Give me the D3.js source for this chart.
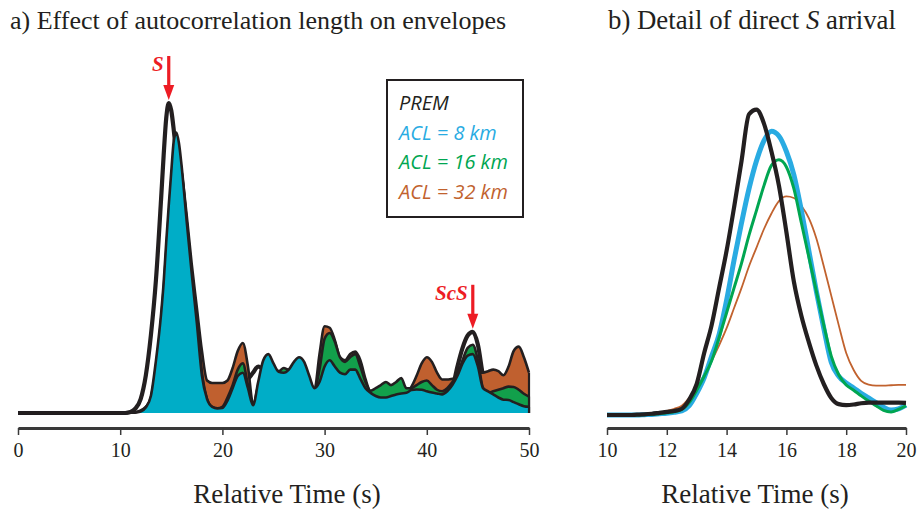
<!DOCTYPE html>
<html>
<head>
<meta charset="utf-8">
<script src="https://cdn.jsdelivr.net/npm/d3@7"></script>
<style>
  body { margin: 0; background: #fff; }
  svg { display: block; }
</style>
</head>
<body>
<svg id="chart" width="918" height="511"></svg>
<script>
// ---- Panel a: envelopes over the full window (relative time, s) ----
const times = [
  0,
  10, 10.5, 11, 11.5, 12, 12.5, 13, 13.5, 14,
  14.25, 14.5, 14.75, 15, 15.25, 15.5, 15.75,
  16, 16.5, 17, 17.5, 18, 18.5, 19, 19.5, 20, 20.5,
  21, 21.5, 22, 22.5, 23, 23.5, 24, 24.5, 25, 25.5,
  26, 26.5, 27, 27.5, 28, 28.5, 29, 29.5, 30, 30.5,
  31, 31.5, 32, 32.5, 33, 33.5, 34, 34.5, 35, 35.5,
  36, 36.5, 37, 37.5, 38, 38.5, 39, 39.5, 40, 40.5,
  41, 41.5, 42, 42.5, 43, 43.5, 44, 44.5, 45, 45.5,
  46, 46.5, 47, 47.5, 48, 48.5, 49, 49.5, 50
];
const premEnv = [
  0,
  0, 0, 0.003, 0.015, 0.045, 0.12, 0.25, 0.43, 0.69,
  0.83, 0.95, 1.0, 0.975, 0.91, 0.83, 0.74,
  0.65, 0.48, 0.33, 0.2, 0.1, 0.05, 0.03, 0.025, 0.025, 0.03,
  0.05, 0.08, 0.1, 0.11, 0.13, 0.15, 0.14, 0.12, 0.1, 0.09,
  0.09, 0.1, 0.12, 0.13, 0.12, 0.09, 0.07, 0.08, 0.12, 0.14,
  0.13, 0.11, 0.1, 0.11, 0.11, 0.09, 0.06, 0.045, 0.04, 0.04,
  0.04, 0.045, 0.05, 0.05, 0.05, 0.055, 0.06, 0.06, 0.06, 0.055,
  0.05, 0.05, 0.055, 0.08, 0.15, 0.21, 0.25, 0.262, 0.22, 0.12,
  0.06, 0.05, 0.045, 0.04, 0.04, 0.04, 0.035, 0.03, 0.03
];
const acl32Env = [
  0,
  0, 0, 0.001, 0.003, 0.008, 0.02, 0.045, 0.13, 0.28,
  0.37, 0.47, 0.58, 0.69, 0.78, 0.83, 0.82,
  0.78, 0.64, 0.48, 0.34, 0.2, 0.105, 0.097, 0.097, 0.097, 0.105,
  0.145, 0.2, 0.226, 0.15, 0.03, 0.07, 0.13, 0.16, 0.13, 0.12,
  0.12, 0.12, 0.14, 0.15, 0.13, 0.1, 0.075, 0.19, 0.28, 0.275,
  0.235, 0.18, 0.17, 0.19, 0.198, 0.17, 0.11, 0.065, 0.055, 0.055,
  0.055, 0.06, 0.06, 0.062, 0.065, 0.085, 0.12, 0.16, 0.18, 0.165,
  0.13, 0.108, 0.108, 0.11, 0.11, 0.12, 0.13, 0.13, 0.13, 0.13,
  0.135, 0.14, 0.135, 0.122, 0.15, 0.2, 0.214, 0.18, 0.13
];
const acl16Env = [
  0,
  0, 0, 0.001, 0.002, 0.006, 0.018, 0.05, 0.15, 0.3,
  0.4, 0.52, 0.64, 0.75, 0.84, 0.87, 0.84,
  0.78, 0.62, 0.45, 0.3, 0.13, 0.045, 0.02, 0.015, 0.02, 0.05,
  0.09, 0.14, 0.16, 0.09, 0.025, 0.09, 0.15, 0.18, 0.15, 0.135,
  0.145, 0.14, 0.15, 0.165, 0.15, 0.11, 0.078, 0.14, 0.24, 0.258,
  0.23, 0.18, 0.165, 0.18, 0.19, 0.15, 0.1, 0.072, 0.08, 0.09,
  0.1, 0.09, 0.1, 0.113, 0.08, 0.08, 0.09, 0.1, 0.105, 0.09,
  0.075, 0.07, 0.08, 0.1, 0.125, 0.17, 0.21, 0.22, 0.17, 0.08,
  0.065, 0.07, 0.075, 0.08, 0.085, 0.084, 0.075, 0.062, 0.053
];
const acl8Env = [
  0,
  0, 0, 0.001, 0.002, 0.005, 0.018, 0.055, 0.17, 0.32,
  0.42, 0.55, 0.67, 0.78, 0.88, 0.905, 0.87,
  0.8, 0.62, 0.45, 0.29, 0.12, 0.045, 0.02, 0.015, 0.016, 0.04,
  0.08, 0.12, 0.13, 0.08, 0.025, 0.1, 0.17, 0.19, 0.16, 0.133,
  0.13, 0.14, 0.165, 0.18, 0.165, 0.12, 0.08, 0.1, 0.15, 0.17,
  0.15, 0.13, 0.125, 0.14, 0.14, 0.11, 0.08, 0.065, 0.055, 0.05,
  0.05, 0.055, 0.06, 0.063, 0.065, 0.074, 0.076, 0.075, 0.07, 0.066,
  0.063, 0.06, 0.07, 0.09, 0.12, 0.16, 0.185, 0.19, 0.15, 0.08,
  0.07, 0.06, 0.05, 0.043, 0.042, 0.035, 0.028, 0.022, 0.02
];
const tickA = [0, 10, 20, 30, 40, 50];
const phaseNames = ["S", "ScS"];
const phaseTimes = [14.75, 44.5];

// ---- Panel b: close-up of the direct S arrival ----
const detailTimes = [
  10, 10.25, 10.5, 10.75, 11, 11.25, 11.5, 11.75, 12, 12.25, 12.5, 12.75,
  13, 13.25, 13.5, 13.75, 14, 14.25, 14.5, 14.75, 15, 15.25, 15.5, 15.75,
  16, 16.25, 16.5, 16.75, 17, 17.25, 17.5, 17.75, 18, 18.25, 18.5, 18.75,
  19, 19.25, 19.5, 19.75, 20
];
const premDetail = [
  0, 0, 0, 0, 0.001, 0.002, 0.004, 0.007, 0.01, 0.013, 0.02, 0.05,
  0.1, 0.2, 0.29, 0.41, 0.53, 0.67, 0.82, 0.97, 0.985, 0.94, 0.85, 0.74,
  0.59, 0.43, 0.32, 0.235, 0.16, 0.1, 0.055, 0.035, 0.032, 0.034, 0.038, 0.04,
  0.04, 0.04, 0.04, 0.04, 0.039
];
const acl8Detail = [
  0, 0, 0, 0, 0, 0.001, 0.002, 0.004, 0.006, 0.009, 0.013, 0.03,
  0.07, 0.12, 0.19, 0.26, 0.37, 0.5, 0.62, 0.73, 0.82, 0.885, 0.915, 0.9,
  0.85, 0.775, 0.66, 0.53, 0.4, 0.28, 0.17, 0.125, 0.103, 0.087, 0.07, 0.055,
  0.04, 0.025, 0.016, 0.02, 0.032
];
const acl16Detail = [
  0, 0, 0, 0, 0, 0.001, 0.002, 0.004, 0.007, 0.01, 0.018, 0.04,
  0.08, 0.125, 0.175, 0.25, 0.33, 0.41, 0.49, 0.58, 0.66, 0.74, 0.805, 0.823,
  0.8, 0.73, 0.62, 0.51, 0.4, 0.29, 0.19, 0.13, 0.097, 0.08, 0.062, 0.045,
  0.03, 0.015, 0.01, 0.018, 0.03
];
const acl32Detail = [
  0, 0, 0.001, 0.002, 0.003, 0.004, 0.006, 0.008, 0.013, 0.02, 0.03, 0.055,
  0.085, 0.13, 0.175, 0.225, 0.28, 0.345, 0.41, 0.48, 0.54, 0.6, 0.65, 0.69,
  0.705, 0.7, 0.675, 0.635, 0.57, 0.48, 0.385, 0.29, 0.2, 0.145, 0.11, 0.098,
  0.095, 0.095, 0.096, 0.097, 0.097
];
const tickB = [10, 12, 14, 16, 18, 20];

const legendLabels = ["PREM", "ACL = 8 km", "ACL = 16 km", "ACL = 32 km"];

// ---- Colours ----
const INK = "#231f20";
const RED = "#ed1c24";
const SKY = "#29abe2";
const TEAL = "#00adc7";
const GREEN = "#00a651";
const GREEN_FILL = "#12a04b";
const BROWN = "#c1622e";
const BROWN_FILL = "#c0602f";
const SERIF = "'Liberation Serif', 'Times New Roman', serif";
const SANS = "'Open Sans', 'Noto Sans', sans-serif";

const svg = d3.select("#chart");

// ================= Panel a =================
const xA = d3.scaleLinear().domain([0, 50]).range([18, 529]);
const yA = d3.scaleLinear().domain([0, 1]).range([413, 103]);
const pairs = (ts, vs) => ts.map((t, i) => [t, vs[i]]);
const lineA = d3.line().x(d => xA(d[0])).y(d => yA(d[1])).curve(d3.curveMonotoneX);
const areaA = d3.area().x(d => xA(d[0])).y0(yA(0)).y1(d => yA(d[1])).curve(d3.curveMonotoneX);

const gA = svg.append("g");

// PREM envelope: outline only, sitting beneath the filled envelopes
gA.append("path")
  .attr("d", lineA(pairs(times, premEnv)))
  .attr("fill", "none")
  .attr("stroke", INK)
  .attr("stroke-width", 4.2)
  .attr("stroke-linejoin", "round");

// Filled envelopes, broadest (32 km) first
const layersA = [
  { values: acl32Env, fill: BROWN_FILL },
  { values: acl16Env, fill: GREEN_FILL },
  { values: acl8Env, fill: TEAL }
];
layersA.forEach(layer => {
  const pts = pairs(times, layer.values);
  gA.append("path").attr("d", areaA(pts)).attr("fill", layer.fill);
  gA.append("path")
    .attr("d", lineA(pts))
    .attr("fill", "none")
    .attr("stroke", INK)
    .attr("stroke-width", 2.6)
    .attr("stroke-linejoin", "round");
  const last = pts[pts.length - 1];
  gA.append("line")
    .attr("x1", xA(last[0])).attr("x2", xA(last[0]))
    .attr("y1", yA(last[1])).attr("y2", yA(0))
    .attr("stroke", INK).attr("stroke-width", 2.2);
});

// Phase arrows (S, ScS) pointing at the PREM envelope
const premAt = t => premEnv[times.indexOf(t)];
phaseNames.forEach((name, i) => {
  const t = phaseTimes[i];
  const x = xA(t);
  const tip = yA(premAt(t)) - 3;
  const top = tip - 44;
  gA.append("line")
    .attr("x1", x).attr("x2", x)
    .attr("y1", top).attr("y2", tip - 12)
    .attr("stroke", RED).attr("stroke-width", 3.2);
  gA.append("path")
    .attr("d", d3.line()([[x - 5.5, tip - 15], [x + 5.5, tip - 15], [x, tip]]) + "Z")
    .attr("fill", RED);
  gA.append("text")
    .attr("x", x - 5).attr("y", top + 15)
    .attr("text-anchor", "end")
    .attr("font-family", SERIF)
    .attr("font-style", "italic")
    .attr("font-weight", "bold")
    .attr("font-size", 21)
    .attr("fill", RED)
    .text(name);
});

// Legend
const legend = svg.append("g");
legend.append("rect")
  .attr("x", 387).attr("y", 80).attr("width", 136).attr("height", 137)
  .attr("fill", "#fff").attr("stroke", INK).attr("stroke-width", 2);
const legendColors = [INK, SKY, GREEN, BROWN];
legendLabels.forEach((label, i) => {
  legend.append("text")
    .attr("x", 399).attr("y", 110 + i * 29.7)
    .attr("font-family", SANS)
    .attr("font-style", "italic")
    .attr("font-size", 20)
    .attr("fill", legendColors[i])
    .text(label);
});

// Axis styling shared by both panels
function styleAxis(g, fontSize) {
  g.select(".domain").attr("stroke", "#3a3a3a").attr("stroke-width", 3);
  g.selectAll(".tick line").attr("stroke", "#3a3a3a").attr("stroke-width", 1.5);
  g.selectAll(".tick text")
    .attr("font-family", SERIF)
    .attr("font-size", fontSize)
    .attr("fill", INK);
}
svg.append("g")
  .attr("transform", "translate(0,428)")
  .call(d3.axisBottom(xA).tickValues(tickA).tickSize(7).tickSizeOuter(0).tickPadding(8))
  .call(g => styleAxis(g, 20));

svg.append("text")
  .attr("x", 287).attr("y", 503)
  .attr("text-anchor", "middle")
  .attr("font-family", SERIF).attr("font-size", 27).attr("fill", INK)
  .text("Relative Time (s)");

svg.append("text")
  .attr("x", 10).attr("y", 29)
  .attr("font-family", SERIF).attr("font-size", 26).attr("fill", INK)
  .text("a) Effect of autocorrelation length on envelopes");

// ================= Panel b =================
const xB = d3.scaleLinear().domain([10, 20]).range([607, 906]);
const yB = d3.scaleLinear().domain([0, 1]).range([415, 105]);
const lineB = d3.line().x(d => xB(d[0])).y(d => yB(d[1])).curve(d3.curveMonotoneX);
const gB = svg.append("g");
const seriesB = [
  { values: acl32Detail, color: BROWN, width: 1.8 },
  { values: acl8Detail, color: SKY, width: 5 },
  { values: acl16Detail, color: GREEN, width: 3 },
  { values: premDetail, color: INK, width: 4.2 }
];
seriesB.forEach(s => {
  gB.append("path")
    .attr("d", lineB(pairs(detailTimes, s.values)))
    .attr("fill", "none")
    .attr("stroke", s.color)
    .attr("stroke-width", s.width)
    .attr("stroke-linejoin", "round");
});

svg.append("g")
  .attr("transform", "translate(0,428)")
  .call(d3.axisBottom(xB).tickValues(tickB).tickSize(7).tickSizeOuter(0).tickPadding(8))
  .call(g => styleAxis(g, 20));

svg.append("text")
  .attr("x", 755).attr("y", 503)
  .attr("text-anchor", "middle")
  .attr("font-family", SERIF).attr("font-size", 27).attr("fill", INK)
  .text("Relative Time (s)");

const titleB = svg.append("text")
  .attr("x", 608).attr("y", 29)
  .attr("font-family", SERIF).attr("font-size", 26.8).attr("fill", INK);
titleB.append("tspan").text("b) Detail of direct ");
titleB.append("tspan").attr("font-style", "italic").text("S");
titleB.append("tspan").text(" arrival");
</script>
</body>
</html>
